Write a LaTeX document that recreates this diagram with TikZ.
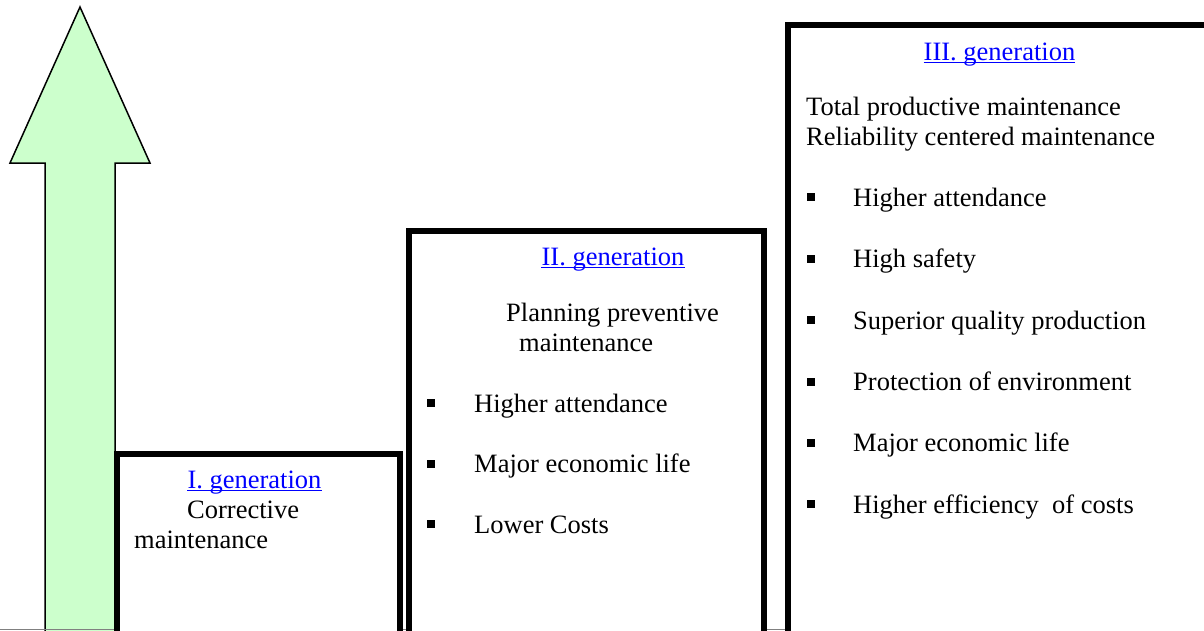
\documentclass[tikz,border=0pt]{standalone}
\usepackage{fontspec}
\setmainfont{Liberation Serif}
\definecolor{arrowgreen}{RGB}{204,255,204}
\definecolor{linkblue}{RGB}{0,0,255}
\tikzset{
  gen/.style={draw=black, line width=6pt, fill=white},
  txt/.style={anchor=base west, inner sep=0pt, font=\fontsize{26.5}{30}\selectfont},
  ttl/.style={anchor=base, inner sep=0pt, text=linkblue, font=\fontsize{26.5}{30}\selectfont},
  ul/.style={draw=linkblue, line width=1.5pt},
  bul/.style={fill=black, inner sep=0pt, minimum size=8pt, draw=none}
}
\newcommand{\ulink}[1]{\draw[ul] ([yshift=-2.5pt]#1.base west) -- ([yshift=-2.5pt]#1.base east);}
\begin{document}
\begin{tikzpicture}[x=1pt, y=-1pt]
\useasboundingbox (0,0) rectangle (1204,630);
\clip (0,0) rectangle (1204,630);
\fill[white] (0,0) rectangle (1204,630);

% upward arrow
\draw[fill=arrowgreen, line width=1.5pt, line join=miter]
  (80,7) -- (150,163) -- (115,163) -- (115,660) -- (45,660) -- (45,163) -- (10,163) -- cycle;

% thin rule along the bottom edge
\draw[gray, line width=1pt] (0,629.5) -- (1204,629.5);

% generation boxes
\draw[gen] (117,454) rectangle (400,700);
\draw[gen] (409,231) rectangle (764,700);
\draw[gen] (788,24.7) rectangle (1260,700);

% I. generation
\node[ttl] (t1) at (254.5,488) {I. generation};
\ulink{t1}
\node[txt] (c1) at (187,518) {Corrective};
\node[txt] (c2) at (134,548) {maintenance};

% II. generation
\node[ttl] (t2) at (613,265) {II. generation};
\ulink{t2}
\node[txt] (p1) at (506,321) {Planning preventive};
\node[txt] (p2) at (519,351) {maintenance};
\node[bul] (b21) at (431,403) {};
\node[txt] (i21) at (474,412) {Higher attendance};
\node[bul] (b22) at (431,463.5) {};
\node[txt] (i22) at (474,472.5) {Major economic life};
\node[bul] (b23) at (431,524) {};
\node[txt] (i23) at (474,533) {Lower Costs};

% III. generation
\node[ttl] (t3) at (999.5,60) {III. generation};
\ulink{t3}
\node[txt] (q1) at (806,115) {Total productive maintenance};
\node[txt] (q2) at (806,145) {Reliability centered maintenance};
\node[bul] (b31) at (811,197) {};
\node[txt] (i31) at (853,206) {Higher attendance};
\node[bul] (b32) at (811,258.5) {};
\node[txt] (i32) at (853,267.5) {High safety};
\node[bul] (b33) at (811,320) {};
\node[txt] (i33) at (853,329) {Superior quality production};
\node[bul] (b34) at (811,381.5) {};
\node[txt] (i34) at (853,390.5) {Protection of environment};
\node[bul] (b35) at (811,442.5) {};
\node[txt] (i35) at (853,451.5) {Major economic life};
\node[bul] (b36) at (811,504) {};
\node[txt] (i36) at (853,513) {Higher efficiency\ \ of costs};
\end{tikzpicture}
\end{document}
